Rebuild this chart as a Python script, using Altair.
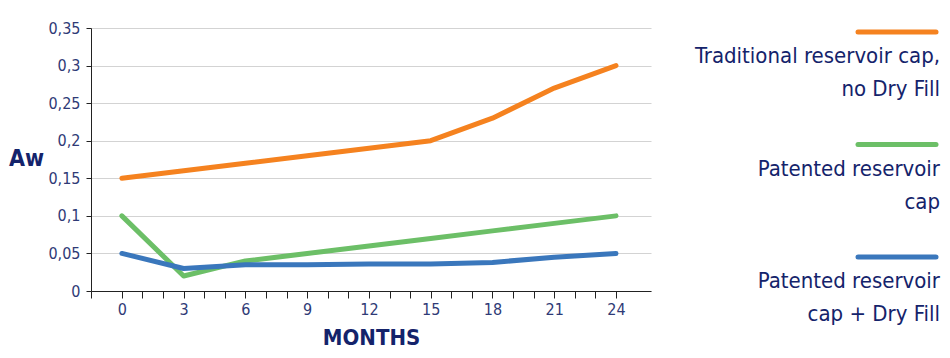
import altair as alt
import pandas as pd

months = [0, 3, 6, 9, 12, 15, 18, 21, 24]
traditional = [0.15, 0.16, 0.17, 0.18, 0.19, 0.20, 0.23, 0.27, 0.30]
patented = [0.10, 0.02, 0.04, 0.05, 0.06, 0.07, 0.08, 0.09, 0.10]
patented_dry = [0.05, 0.03, 0.035, 0.035, 0.036, 0.036, 0.038, 0.045, 0.05]

series_names = ["Traditional reservoir cap,\nno Dry Fill",
                "Patented reservoir\ncap",
                "Patented reservoir\ncap + Dry Fill"]
series_colors = ["#F5821F", "#6CBF67", "#3A77BC"]
y_ticks = [0, 0.05, 0.1, 0.15, 0.2, 0.25, 0.3, 0.35]
x_ticks = [-1.5] + list(range(0, 25))

NAVY = "#14236B"
LABEL = "#2F3A76"
FONT = "'DejaVu Sans Condensed', 'Liberation Sans Narrow', 'Roboto'"

rows = []
for name, vals in zip(series_names, [traditional, patented, patented_dry]):
    for m, v in zip(months, vals):
        rows.append({"month": m, "aw": v, "series": name})
df = pd.DataFrame(rows)

color_scale = alt.Scale(domain=series_names, range=series_colors)

lines = alt.Chart(df).mark_line(strokeWidth=5, strokeCap="round", strokeJoin="round").encode(
    x=alt.X("month:Q",
            scale=alt.Scale(domain=[-1.5, 25.7], nice=False, zero=False),
            axis=alt.Axis(values=x_ticks,
                          labelExpr="(datum.value >= 0 && datum.value % 3 == 0) ? datum.label : ''",
                          title="MONTHS", grid=False, tickSize=7, labelPadding=3,
                          labelFontSize=16, labelColor=LABEL, labelFont=FONT,
                          titleFontSize=22, titleFont=FONT, titleFontWeight="bold",
                          titleColor=NAVY, titleBaseline="middle", titleY=46,
                          domainColor="#222222", tickColor="#222222", labelFlush=False)),
    y=alt.Y("aw:Q",
            scale=alt.Scale(domain=[0, 0.35], nice=False),
            axis=alt.Axis(values=y_ticks, labelExpr="replace(format(datum.value, '.2~f'), '.', ',')",
                          title="Aw", titleAngle=0, titleAlign="center", titleBaseline="middle",
                          titleX=-65, titleY=130, titleFontSize=23, titleFont=FONT,
                          titleFontWeight="bold", titleColor=NAVY, grid=True,
                          tickSize=5, labelPadding=6, labelFontSize=16, labelColor=LABEL,
                          labelFont=FONT, gridColor="#D3D3D3", gridWidth=1.2,
                          domainColor="#222222", tickColor="#222222")),
    color=alt.Color("series:N", scale=color_scale, legend=None),
    detail="series:N",
)

leg_df = pd.DataFrame({"series": series_names, "idx": [0, 1, 2]})
leg_y = alt.Y("idx:Q", scale=alt.Scale(domain=[0, 3], range=[4, 341.5]), axis=None)

leg_lines = alt.Chart(leg_df).mark_rule(strokeWidth=5, strokeCap="round").encode(
    x=alt.value(767), x2=alt.value(845), y=leg_y,
    color=alt.Color("series:N", scale=color_scale, legend=None),
)
leg_text = alt.Chart(leg_df).mark_text(
    align="right", baseline="alphabetic", lineBreak="\n", lineHeight=33, dy=31,
    fontSize=22, font=FONT, color=NAVY,
).encode(x=alt.value(849), y=leg_y, text="series:N")

legend = alt.layer(leg_lines, leg_text)

chart = alt.layer(lines, legend).resolve_scale(y="independent").properties(
    width=560, height=263,
    background="white",
    autosize=alt.AutoSizeParams(type="none"),
    padding={"left": 83, "top": 20, "right": 290, "bottom": 62},
).configure_view(stroke="transparent", strokeWidth=0).configure_axis(grid=False)

chart.save("out.html", embed_options={"renderer": "svg", "actions": False})
